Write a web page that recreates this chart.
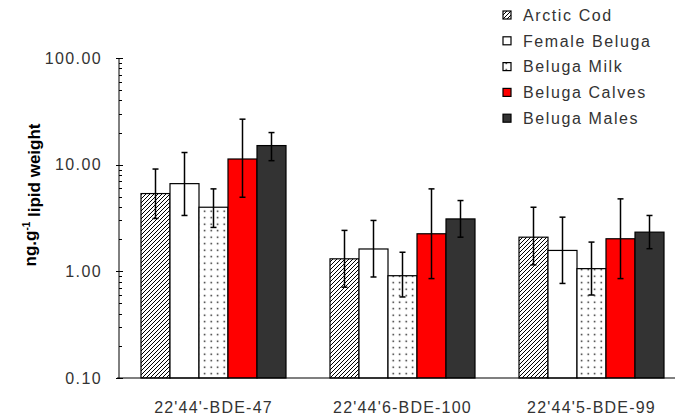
<!DOCTYPE html>
<html>
<head>
<meta charset="utf-8">
<script src="https://cdn.jsdelivr.net/npm/d3@7"></script>
<style>
  body { margin: 0; background: #ffffff; }
  text { font-family: "Liberation Sans", Arial, sans-serif; }
</style>
</head>
<body>
<div id="chart"></div>
<script>
var congeners = ["22'44'-BDE-47", "22'44'6-BDE-100", "22'44'5-BDE-99"];
var groups = ["Arctic Cod", "Female Beluga", "Beluga Milk", "Beluga Calves", "Beluga Males"];

// mean, upper error, lower error for each congener (same order as groups)
var arctic_cod = [[5.36, 9.1, 3.13], [1.31, 2.42, 0.71], [2.09, 3.99, 1.15]];
var female_beluga = [[6.64, 13.0, 3.34], [1.62, 3.0, 0.885], [1.57, 3.22, 0.77]];
var beluga_milk = [[3.99, 5.93, 2.58], [0.91, 1.51, 0.575], [1.06, 1.88, 0.6]];
var beluga_calves = [[11.3, 26.7, 4.95], [2.25, 5.93, 0.855], [2.02, 4.78, 0.855]];
var beluga_males = [[15.1, 20.0, 10.9], [3.1, 4.61, 2.09], [2.33, 3.34, 1.63]];

var y_ticks = [0.1, 1, 10, 100];

var width = 675,
  height = 419;
var margins = { top: 58, right: -11, bottom: 41, left: 119 };

var series = [arctic_cod, female_beluga, beluga_milk, beluga_calves, beluga_males];
var data = [];
congeners.forEach(function (c, ci) {
  groups.forEach(function (g, gi) {
    data.push({
      congener: c,
      group: g,
      value: series[gi][ci][0],
      hi: series[gi][ci][1],
      lo: series[gi][ci][2],
    });
  });
});

var fills = {
  "Arctic Cod": "url(#hatch)",
  "Female Beluga": "#ffffff",
  "Beluga Milk": "url(#dots)",
  "Beluga Calves": "#ff0000",
  "Beluga Males": "#333333",
};

var svg = d3
  .select("#chart")
  .append("svg")
  .attr("width", width)
  .attr("height", height);

var defs = svg.append("defs");

var hatch = defs
  .append("pattern")
  .attr("id", "hatch")
  .attr("patternUnits", "userSpaceOnUse")
  .attr("width", 4)
  .attr("height", 4);
hatch.append("rect").attr("width", 4).attr("height", 4).attr("fill", "#ffffff");
hatch
  .append("path")
  .attr("d", "M-1,1 l2,-2 M0,4 l4,-4 M3,5 l2,-2")
  .attr("stroke", "#000000")
  .attr("stroke-width", 1);

var dots = defs
  .append("pattern")
  .attr("id", "dots")
  .attr("patternUnits", "userSpaceOnUse")
  .attr("width", 6.5)
  .attr("height", 6.5);
dots.append("rect").attr("width", 6.5).attr("height", 6.5).attr("fill", "#ffffff");
dots
  .append("rect")
  .attr("x", 2.5)
  .attr("y", 2.5)
  .attr("width", 1.4)
  .attr("height", 1.4)
  .attr("fill", "#000000");

var x0 = d3
  .scaleBand()
  .domain(congeners)
  .range([margins.left, width - margins.right]);

var x1 = d3
  .scaleBand()
  .domain(groups)
  .range([0, 145]);

var y = d3
  .scaleLog()
  .domain([0.1, 100])
  .range([height - margins.bottom, margins.top]);

var group_offset = (x0.bandwidth() - 145) / 2;

// Bars
svg
  .selectAll(".bar")
  .data(data)
  .enter()
  .append("rect")
  .attr("class", "bar")
  .attr("x", (d) => x0(d.congener) + group_offset + x1(d.group))
  .attr("y", (d) => y(d.value))
  .attr("width", x1.bandwidth())
  .attr("height", (d) => y(0.1) - y(d.value))
  .attr("fill", (d) => fills[d.group])
  .attr("stroke", "#000000")
  .attr("stroke-width", 1.2);

// Error bars
var err = svg
  .selectAll(".err")
  .data(data)
  .enter()
  .append("g")
  .attr("class", "err")
  .attr(
    "transform",
    (d) => "translate(" + (x0(d.congener) + group_offset + x1(d.group) + x1.bandwidth() / 2) + ",0)"
  )
  .attr("stroke", "#000000")
  .attr("stroke-width", 1.5);

err
  .append("line")
  .attr("y1", (d) => y(d.hi))
  .attr("y2", (d) => y(d.lo));
err
  .append("line")
  .attr("x1", -3)
  .attr("x2", 3)
  .attr("y1", (d) => y(d.hi))
  .attr("y2", (d) => y(d.hi));
err
  .append("line")
  .attr("x1", -3)
  .attr("x2", 3)
  .attr("y1", (d) => y(d.lo))
  .attr("y2", (d) => y(d.lo));

// Y axis
var y_axis = svg.append("g").attr("stroke", "#000000").attr("stroke-width", 1);
y_axis
  .append("line")
  .attr("x1", margins.left)
  .attr("x2", margins.left)
  .attr("y1", y(100))
  .attr("y2", y(0.1));

var minor = [];
[0.1, 1, 10].forEach(function (b) {
  for (var k = 2; k <= 9; k++) minor.push(b * k);
});
y_axis
  .selectAll(".minor")
  .data(minor)
  .enter()
  .append("line")
  .attr("x1", margins.left)
  .attr("x2", margins.left + 3)
  .attr("y1", (d) => Math.round(y(d)) + 0.5)
  .attr("y2", (d) => Math.round(y(d)) + 0.5);
y_axis
  .selectAll(".major")
  .data(y_ticks)
  .enter()
  .append("line")
  .attr("x1", margins.left - 3)
  .attr("x2", margins.left + 4)
  .attr("y1", (d) => Math.round(y(d)) + 0.5)
  .attr("y2", (d) => Math.round(y(d)) + 0.5);

svg
  .selectAll(".ytick")
  .data(y_ticks)
  .enter()
  .append("text")
  .attr("x", 102)
  .attr("y", (d) => y(d))
  .attr("dy", "0.36em")
  .attr("text-anchor", "end")
  .attr("font-size", "16px")
  .attr("letter-spacing", "1.4px")
  .attr("fill", "#333333")
  .text((d) => d3.format(".2f")(d));

// X axis
svg
  .append("line")
  .attr("x1", margins.left - 2)
  .attr("x2", width)
  .attr("y1", y(0.1))
  .attr("y2", y(0.1))
  .attr("stroke", "#000000")
  .attr("stroke-width", 1.2);

svg
  .selectAll(".xlabel")
  .data(congeners)
  .enter()
  .append("text")
  .attr("x", (d) => x0(d) + x0.bandwidth() / 2)
  .attr("y", 407)
  .attr("dy", "0.36em")
  .attr("text-anchor", "middle")
  .attr("font-size", "16px")
  .attr("letter-spacing", "1.2px")
  .attr("fill", "#333333")
  .text((d) => d);

// Y title
var y_title = svg
  .append("text")
  .attr("transform", "translate(30,195) rotate(-90)")
  .attr("text-anchor", "middle")
  .attr("dy", "0.36em")
  .attr("font-size", "17px")
  .attr("font-weight", "bold")
  .attr("fill", "#000000");
y_title.append("tspan").text("ng.g");
y_title.append("tspan").attr("dy", "-0.6em").attr("font-size", "10px").text("-1");
y_title.append("tspan").attr("dy", "0.6em").text(" lipid weight");

// Legend
var legend = svg
  .selectAll(".legend")
  .data(groups)
  .enter()
  .append("g")
  .attr("class", "legend")
  .attr("transform", (d, i) => "translate(503," + (15 + i * 25.8) + ")");

legend
  .append("rect")
  .attr("x", 0)
  .attr("y", -4)
  .attr("width", 8)
  .attr("height", 8)
  .attr("fill", (d) => fills[d])
  .attr("stroke", "#000000")
  .attr("stroke-width", 1.2);

legend
  .append("text")
  .attr("x", 20)
  .attr("dy", "0.36em")
  .attr("font-size", "16px")
  .attr("letter-spacing", "1.6px")
  .attr("fill", "#333333")
  .text((d) => d);
</script>
</body>
</html>
